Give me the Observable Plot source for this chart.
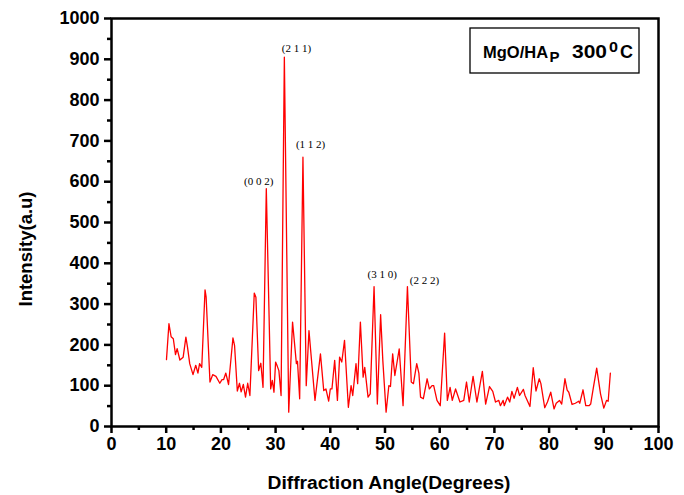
<!DOCTYPE html>
<html><head><meta charset="utf-8">
<script src="https://cdn.jsdelivr.net/npm/d3@7"></script>
<script src="https://cdn.jsdelivr.net/npm/@observablehq/plot@0.6"></script>
<style>body{margin:0;background:#fff}</style>
</head><body><div id="chart"></div>
<script>
const angle = [10.05,10.5,10.9,11.3,11.7,12.0,12.5,13.1,13.6,13.9,14.3,14.9,15.4,15.8,16.1,16.5,17.1,17.3,18.0,18.5,19.1,19.8,20.2,20.5,20.9,21.4,22.2,22.5,23.0,23.4,23.7,24.1,24.5,24.9,25.3,26.1,26.4,26.9,27.3,27.7,28.3,29.1,29.4,29.7,30.0,30.3,30.6,31.0,31.6,32.4,33.1,33.8,34.0,34.4,35.0,35.6,36.1,36.4,37.2,38.2,38.8,39.2,39.7,40.0,40.3,40.8,41.3,41.7,42.1,42.6,43.3,43.8,44.1,44.7,45.0,45.5,46.0,46.3,46.9,47.3,48.0,48.6,49.2,49.6,50.2,50.7,51.0,51.4,51.8,52.6,53.3,54.1,54.8,55.2,55.8,56.2,56.5,57.0,57.7,58.1,58.6,58.9,59.5,60.1,60.9,61.4,61.9,62.3,62.9,63.7,64.4,64.9,65.4,66.1,66.8,67.8,68.4,69.1,69.7,70.2,70.8,71.1,71.6,71.8,72.4,72.8,73.2,73.6,74.2,74.6,75.3,75.6,76.5,77.1,77.6,78.2,78.5,79.2,79.7,80.3,80.9,81.3,81.9,82.3,82.9,83.3,83.6,84.2,84.8,85.4,85.6,86.2,86.7,87.3,87.6,88.1,88.7,89.4,90.0,90.5,90.8,91.2];
const intensity = [164,252,220,215,176,191,163,170,219,194,154,127,150,131,154,145,335,317,109,127,123,106,115,115,131,103,217,198,87,106,85,103,72,106,76,327,317,137,155,96,583,92,113,84,158,148,137,76,905,35,256,154,160,68,660,100,235,188,64,178,88,92,62,92,92,162,64,170,158,211,47,100,76,154,105,256,121,145,72,80,343,55,274,162,35,100,98,178,125,190,51,343,109,105,154,130,72,68,117,92,100,100,64,51,229,64,96,64,92,60,64,109,60,123,60,135,55,98,86,60,64,51,64,51,72,60,86,69,96,76,91,76,49,144,87,117,105,46,60,84,43,57,64,55,117,89,84,54,57,62,57,90,51,51,55,96,143,80,45,64,62,131];
const xTicks = [0,10,20,30,40,50,60,70,80,90,100];
const xMinor = [5,15,25,35,45,55,65,75,85,95];
const yTicks = [0,100,200,300,400,500,600,700,800,900,1000];
const yMinor = [50,150,250,350,450,550,650,750,850,950];
const peakLabels = ["(0 0 2)","(2 1 1)","(1 1 2)","(3 1 0)","(2 2 2)"];
const peakLabelX = [26.9,33.8,36.4,49.5,57.2];
const peakLabelY = [600,926,691,372,358];

const data = angle.map((a,i)=>({a, v:intensity[i]}));
const labels = peakLabels.map((t,i)=>({t, x:peakLabelX[i], y:peakLabelY[i]}));
const axisStyle = {fontSize:18, fontWeight:"bold", strokeWidth:2.5, label:null, tickFormat:d=>String(d)};

const svg = Plot.plot({
  width:684, height:495,
  marginLeft:111, marginRight:26, marginTop:18, marginBottom:69,
  x:{domain:[0,100]}, y:{domain:[0,1000]},
  style:{fontFamily:"'Liberation Sans', Arial, sans-serif", background:"white", color:"black"},
  marks:[
    Plot.line(data,{x:"a",y:"v",stroke:"#ff0000",strokeWidth:1.3}),
    Plot.frame({stroke:"black", strokeWidth:2.5}),
    Plot.axisX({ticks:xTicks, tickSize:7, tickPadding:4, ...axisStyle}),
    Plot.axisX({ticks:xMinor, tickSize:4, tickFormat:()=>"", strokeWidth:2.5, label:null}),
    Plot.axisY({ticks:yTicks, tickSize:7, tickPadding:5, ...axisStyle}),
    Plot.axisY({ticks:yMinor, tickSize:4, tickFormat:()=>"", strokeWidth:2.5, label:null}),
    Plot.text(labels,{x:"x", y:"y", text:"t", fontSize:11, fontFamily:"'Liberation Serif', 'Times New Roman', serif", fill:"black"})
  ]
});
document.getElementById("chart").appendChild(svg);

const s = d3.select(svg);
s.append("text").attr("transform","translate(26,249) rotate(-90)")
  .attr("text-anchor","middle").attr("dominant-baseline","central")
  .attr("font-size",18).attr("font-weight","bold").attr("fill","black")
  .attr("textLength",115).attr("lengthAdjust","spacingAndGlyphs")
  .text("Intensity(a.u)");
s.append("text").attr("x",389).attr("y",489)
  .attr("text-anchor","middle")
  .attr("font-size",18).attr("font-weight","bold").attr("fill","black")
  .attr("textLength",243).attr("lengthAdjust","spacingAndGlyphs")
  .text("Diffraction Angle(Degrees)");
s.append("rect").attr("x",470).attr("y",28).attr("width",169).attr("height",45)
  .attr("fill","none").attr("stroke","black").attr("stroke-width",1.3);
const tb = s.append("text").attr("x",483).attr("y",58).attr("font-size",18)
  .attr("font-weight","bold").attr("fill","black").attr("text-anchor","start");
const parts = [
  {t:"MgO/HA", x:483, y:58, fs:16.5},
  {t:"P", x:549.5, y:62, fs:15},
  {t:"300", x:572, y:58, fs:18, w:35},
  {t:"0", x:609, y:52, fs:14, w:9},
  {t:"C", x:620, y:58, fs:18, w:13}
];
parts.forEach(p => {
  const ts = tb.append("tspan").attr("x",p.x).attr("y",p.y).attr("font-size",p.fs).text(p.t);
  if (p.w) ts.attr("textLength",p.w).attr("lengthAdjust","spacingAndGlyphs");
});
</script>
</body></html>
